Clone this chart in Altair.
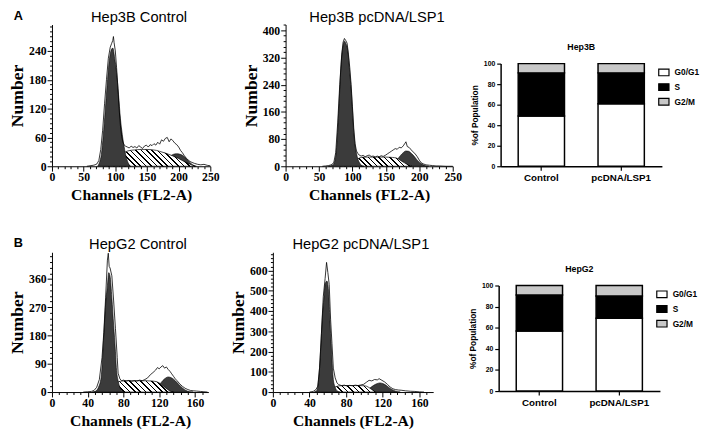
import math
import altair as alt
import pandas as pd

SERIF = "Liberation Serif"
SANS = "Liberation Sans"
DARK = "#3b3b3b"

# ---------------- Hep3B Control ----------------
a1_raw_x = [55, 60, 65, 68, 71, 74, 77, 80, 83, 86, 89, 92, 94, 96, 97, 98, 100, 102, 104, 106,
            108, 110, 112, 114, 116, 119, 122, 125, 128, 131, 134, 137, 140, 143, 146, 149, 152, 155, 158, 161,
            164, 167, 170, 173, 176, 179, 182, 185, 188, 191, 194, 197, 200, 203, 206, 209, 212, 215, 218, 221,
            225, 230, 235, 240, 245, 250]
a1_raw_y = [0, 1, 2, 3, 5, 12, 35, 75, 130, 180, 225, 248, 255, 262, 270, 258, 240, 205, 165, 120,
            85, 62, 50, 44, 42, 40, 38, 42, 39, 41, 38, 43, 40, 37, 42, 44, 40, 45, 43, 47,
            44, 50, 46, 55, 52, 58, 60, 51, 57, 53, 48, 45, 40, 33, 28, 22, 17, 13, 10, 8,
            6, 4, 3, 4, 2, 1]
a1_g1_x = [72, 75, 78, 81, 84, 87, 90, 93, 96, 99, 102, 105, 108, 111, 114, 117, 120, 124]
a1_g1_y = [0, 8, 25, 65, 115, 168, 215, 240, 246, 225, 195, 150, 100, 66, 40, 20, 8, 0]
a1_s_x = [82, 90, 100, 110, 115, 120, 130, 140, 150, 160, 165, 170, 180, 190, 200, 210, 220, 226]
a1_s_y = [0, 5, 14, 24, 29, 32, 34, 35, 35, 34, 33, 31, 27, 22, 16, 9, 3, 0]
a1_g2_x = [168, 176, 182, 187, 192, 197, 202, 207, 212, 217, 222, 228]
a1_g2_y = [0, 6, 14, 21, 25, 26, 25, 22, 16, 9, 3, 0]

# ---------------- Hep3B pcDNA/LSP1 ----------------
a2_raw_x = [55, 60, 64, 68, 72, 75, 78, 81, 84, 86, 88, 90, 92, 94, 96, 98, 100, 102, 104, 106,
            108, 110, 113, 116, 119, 122, 125, 128, 131, 134, 137, 140, 143, 146, 149, 152, 155, 158, 161, 164,
            167, 170, 173, 176, 178, 180, 182, 185, 188, 191, 194, 197, 200, 203, 206, 210, 215, 220, 225, 230,
            240, 250]
a2_raw_y = [0, 1, 2, 4, 10, 40, 130, 240, 330, 365, 376, 370, 362, 330, 290, 240, 175, 110, 66, 45,
            38, 33, 30, 32, 28, 31, 33, 29, 30, 27, 30, 28, 31, 29, 32, 36, 40, 44, 48, 52,
            50, 56, 54, 60, 66, 72, 58, 55, 48, 42, 36, 28, 18, 10, 7, 4, 3, 2, 1, 1,
            0, 0]
a2_g1_x = [64, 70, 74, 77, 80, 83, 86, 88, 90, 93, 96, 98, 100, 102, 104, 106, 108, 111, 114, 117]
a2_g1_y = [0, 3, 18, 75, 185, 300, 355, 368, 362, 340, 275, 228, 165, 100, 60, 38, 22, 9, 2, 0]
a2_s_x = [82, 90, 100, 108, 113, 120, 130, 140, 150, 160, 166, 172, 178, 184, 189]
a2_s_y = [0, 5, 14, 22, 26, 27, 27, 27, 27, 26, 24, 17, 10, 3, 0]
a2_g2_x = [150, 160, 167, 172, 176, 180, 184, 188, 192, 196, 200, 205, 210, 214]
a2_g2_y = [0, 8, 20, 32, 40, 45, 44, 38, 30, 20, 12, 5, 1, 0]

# ---------------- HepG2 Control ----------------
b1_raw_x = [35, 40, 44, 47, 50, 53, 56, 58, 60, 62, 63, 64, 65, 67, 69, 71, 73, 74, 76, 78,
            80, 83, 86, 89, 92, 95, 98, 101, 104, 107, 110, 113, 116, 118, 120, 122, 124, 126, 128, 130,
            132, 134, 136, 138, 140, 143, 146, 149, 152, 155, 158, 162, 166, 170, 174]
b1_raw_y = [0, 1, 2, 5, 15, 40, 110, 190, 300, 420, 442, 400, 395, 370, 290, 203, 110, 60, 42, 36,
            38, 35, 37, 34, 36, 35, 38, 36, 40, 45, 55, 62, 70, 78, 74, 80, 84, 76, 80, 72,
            66, 58, 50, 42, 36, 26, 18, 12, 8, 5, 4, 3, 2, 1, 0]
b1_g1_x = [45, 49, 52, 55, 58, 60, 62, 63.5, 65, 67, 69, 71, 72, 74, 76, 78, 81]
b1_g1_y = [0, 3, 15, 47, 182, 280, 338, 380, 369, 300, 213, 130, 78, 36, 15, 5, 0]
b1_s_x = [58, 62, 66, 70, 74, 78, 85, 95, 105, 112, 117, 121, 125, 129, 133, 136]
b1_s_y = [0, 5, 14, 24, 32, 35, 36, 36, 36, 35, 33, 27, 18, 9, 2, 0]
b1_g2_x = [110, 114, 118, 122, 126, 130, 134, 138, 142, 146, 150, 154, 158]
b1_g2_y = [0, 5, 15, 30, 42, 48, 45, 36, 24, 13, 5, 1, 0]

# ---------------- HepG2 pcDNA/LSP1 ----------------
b2_raw_x = [40, 44, 47, 49, 51, 53, 55, 57, 58.6, 60, 61.5, 63, 64.5, 66, 68, 70, 72, 75, 78, 81,
            84, 87, 90, 93, 96, 99, 102, 105, 108, 111, 114, 116, 119, 122, 125, 128, 131, 134, 137, 140,
            145, 150, 155, 160, 165]
b2_raw_y = [0, 3, 12, 29, 120, 290, 470, 560, 640, 590, 531, 360, 240, 118, 70, 45, 36, 32, 34, 30,
            33, 31, 34, 32, 35, 38, 48, 58, 55, 62, 60, 66, 58, 50, 38, 25, 16, 12, 10, 9,
            6, 4, 3, 1, 0]
b2_g1_x = [45, 48, 50.5, 52, 54, 56, 57, 59, 61, 62, 63, 64, 65, 66, 67.5, 69, 71, 73]
b2_g1_y = [0, 8, 94, 200, 370, 480, 531, 548, 483, 380, 290, 207, 120, 62, 30, 13, 3, 0]
b2_s_x = [53, 58, 63, 68, 73, 80, 90, 100, 104, 108, 112]
b2_s_y = [0, 6, 15, 25, 31, 32, 32, 31, 25, 12, 0]
b2_g2_x = [98, 102, 106, 110, 114, 117, 120, 124, 128, 132, 136, 139]
b2_g2_y = [0, 8, 20, 33, 42, 45, 42, 32, 18, 8, 2, 0]

# ---------------- Cell-cycle distribution (%) ----------------
groups = ["Control", "pcDNA/LSP1"]
phases = ["G0/G1", "S", "G2/M"]
hep3b_g0g1 = [49, 61]
hep3b_s = [42, 30]
hep3b_g2m = [9, 9]
hepg2_g0g1 = [57, 69]
hepg2_s = [34, 21]
hepg2_g2m = [9, 10]


def hatch_gradient(w, h, period=4.0, line=1.2):
    n = max(3, round((w + h) / (math.sqrt(2) * period)))
    k = (w + h) / (w * w + h * h)
    frac = line / period
    stops = []
    for i in range(n):
        a = i / n
        b = (i + 1 - frac) / n
        c = (i + 1) / n
        stops += [
            {"offset": a, "color": "white"},
            {"offset": b, "color": "white"},
            {"offset": b, "color": "black"},
            {"offset": c, "color": "black"},
        ]
    return {"gradient": "linear", "x1": 0, "y1": 1, "x2": w * k, "y2": 1 - h * k, "stops": stops}


def hist(title, letter, raw_x, raw_y, g1_x, g1_y, s_x, s_y, g2_x, g2_y,
         xmax, ymax, w, h, xmaj, xmin, ymaj, ymin):
    xs = alt.Scale(domain=[0, xmax], nice=False)
    ys = alt.Scale(domain=[0, ymax], nice=False)
    common = dict(labelFlush=False, labelOverlap=False, grid=False,
                  labelFont=SERIF, labelFontWeight="bold", labelFontSize=12,
                  titleFont=SERIF, titleFontWeight="bold", tickWidth=1, domainWidth=1)
    xax = alt.Axis(title="Channels (FL2-A)", values=list(range(0, xmax + 1, xmin)),
                   labelExpr=f"datum.value % {xmaj} === 0 ? datum.label : ''",
                   tickSize={"condition": {"test": f"datum.value % {xmaj} === 0", "value": 5}, "value": 2.5},
                   labelPadding=1, titleFontSize=16, titlePadding=4, **common)
    yax = alt.Axis(title="Number", values=list(range(0, ymax + 1, ymin)),
                   labelExpr=f"datum.value % {ymaj} === 0 ? datum.label : ''",
                   tickSize={"condition": {"test": f"datum.value % {ymaj} === 0", "value": 5}, "value": 2.5},
                   labelPadding=1, titleFontSize=18, titlePadding=2, **common)
    X = alt.X("x:Q", scale=xs, axis=xax)
    Y = alt.Y("y:Q", scale=ys, axis=yax)

    sw = (max(s_x) - min(s_x)) * w / xmax
    sh = max(s_y) * h / ymax

    g2 = alt.Chart(pd.DataFrame({"x": g2_x, "y": g2_y})).mark_area(
        color=DARK, stroke="black", strokeWidth=0.6, interpolate="monotone").encode(x=X, y=Y)
    s = alt.Chart(pd.DataFrame({"x": s_x, "y": s_y})).mark_area(
        fill=hatch_gradient(sw, sh), stroke="black", strokeWidth=0.7, interpolate="monotone").encode(x=X, y=Y)
    g1 = alt.Chart(pd.DataFrame({"x": g1_x, "y": g1_y})).mark_area(
        color=DARK, stroke="black", strokeWidth=0.6, interpolate="monotone").encode(x=X, y=Y)
    raw = alt.Chart(pd.DataFrame({"x": raw_x, "y": raw_y})).mark_line(
        color="black", strokeWidth=0.8).encode(x=X, y=Y)
    ttl = alt.Chart(pd.DataFrame({"t": [title]})).mark_text(
        font=SANS, fontSize=15, align="center", baseline="middle", color="black"
    ).encode(text="t:N", x=alt.value(w / 2 + 8), y=alt.value(-8))
    layers = [g2, s, g1, raw, ttl]
    if letter:
        lt = alt.Chart(pd.DataFrame({"t": [letter]})).mark_text(
            font=SANS, fontWeight="bold", fontSize=13, align="left", baseline="middle", color="black"
        ).encode(text="t:N", x=alt.value(-39), y=alt.value(-9))
        layers.append(lt)
    return alt.layer(*layers).properties(width=w, height=h)


def bars(title, g0, s, g2, h):
    rows = []
    for i, grp in enumerate(groups):
        for j, (ph, v) in enumerate(zip(phases, [g0[i], s[i], g2[i]])):
            rows.append({"group": grp, "phase": ph, "value": v, "k": j})
    df = pd.DataFrame(rows)
    yax = alt.Axis(title="%of Population", values=[0, 20, 40, 60, 80, 100], tickSize=4, grid=False,
                   labelFont=SANS, labelFontWeight="bold", labelFontSize=7, labelPadding=2,
                   titleFont=SANS, titleFontSize=8.5, titleFontWeight="bold", titlePadding=4,
                   domainWidth=1.5, tickWidth=1.2)
    xax = alt.Axis(title=None, labelAngle=0, labelFont=SANS, labelFontWeight="bold", labelFontSize=10,
                   tickSize=4, domainWidth=1.5, tickWidth=1.2, labelPadding=3)
    leg = alt.Legend(title=None, orient="none", legendX=161, legendY=3,
                     symbolType="M-1,-0.65H1V0.65H-1Z", symbolSize=110, symbolStrokeColor="black",
                     symbolStrokeWidth=1.2, labelFont=SANS, labelFontWeight="bold", labelFontSize=8.5,
                     labelColor="black", rowPadding=3, labelOffset=5)
    return alt.Chart(df).mark_bar(stroke="black", strokeWidth=1.5).encode(
        x=alt.X("group:N", sort=groups, scale=alt.Scale(paddingInner=0.42, paddingOuter=0.22), axis=xax),
        y=alt.Y("value:Q", stack="zero", scale=alt.Scale(domain=[0, 100], nice=False), axis=yax),
        color=alt.Color("phase:N", scale=alt.Scale(domain=phases, range=["white", "black", "#c8c8c8"]),
                        legend=leg),
        order=alt.Order("k:Q"),
    ).properties(
        width=165, height=h,
        title=alt.TitleParams(title, font=SANS, fontSize=9, fontWeight="bold", offset=8, color="black"),
    )


def spacer(h):
    return alt.Chart(pd.DataFrame({"a": [0]})).mark_point(opacity=0, size=1).encode(
        x=alt.value(2), y=alt.value(2)).properties(width=4, height=h)


A1 = hist("Hep3B Control", "A", a1_raw_x, a1_raw_y, a1_g1_x, a1_g1_y, a1_s_x, a1_s_y, a1_g2_x, a1_g2_y,
          250, 295, 162, 145, 50, 10, 60, 10)
A2 = hist("Hep3B pcDNA/LSP1", None, a2_raw_x, a2_raw_y, a2_g1_x, a2_g1_y, a2_s_x, a2_s_y, a2_g2_x, a2_g2_y,
          250, 417, 171, 145, 50, 10, 80, 16)
B1 = hist("HepG2 Control", "B", b1_raw_x, b1_raw_y, b1_g1_x, b1_g1_y, b1_s_x, b1_s_y, b1_g2_x, b1_g2_y,
          175, 445, 160, 143, 40, 8, 90, 18)
B2 = hist("HepG2 pcDNA/LSP1", None, b2_raw_x, b2_raw_y, b2_g1_x, b2_g1_y, b2_s_x, b2_s_y, b2_g2_x, b2_g2_y,
          175, 690, 164, 143, 40, 8, 100, 20)

barA = bars("Hep3B", hep3b_g0g1, hep3b_s, hep3b_g2m, 105)
barB = bars("HepG2", hepg2_g0g1, hepg2_s, hepg2_g2m, 108)

colA = alt.vconcat(spacer(17), barA, spacing=0).resolve_scale(color="independent")
colB = alt.vconcat(spacer(11), barB, spacing=0).resolve_scale(color="independent")

rowA = alt.hconcat(alt.hconcat(A1, A2, spacing=22), colA, spacing=7).resolve_scale(color="independent")
rowB = alt.hconcat(alt.hconcat(B1, B2, spacing=19), colB, spacing=34).resolve_scale(color="independent")

chart = alt.vconcat(rowA, rowB, spacing=34).resolve_scale(color="independent").properties(
    padding={"left": 0, "top": -4, "right": 0, "bottom": 0}
).configure_view(stroke="transparent").configure_axis(
    domainColor="black", tickColor="black", labelColor="black", titleColor="black"
)

chart.save("out.html", embed_options={"renderer": "svg", "actions": False})
